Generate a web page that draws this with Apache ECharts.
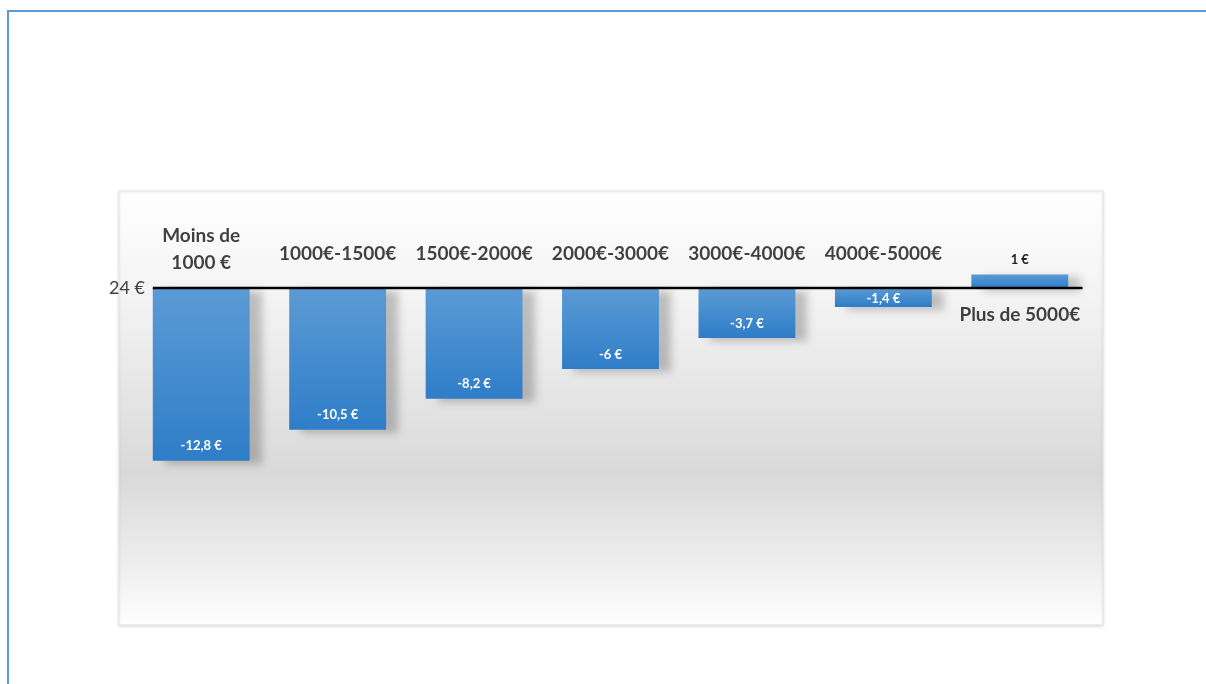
<!DOCTYPE html>
<html>
<head>
<meta charset="utf-8">
<script src="https://cdn.jsdelivr.net/npm/echarts@6/dist/echarts.min.js"></script>
<style>
html,body{margin:0;padding:0;background:#ffffff;}
#chart{width:1206px;height:684px;}
</style>
</head>
<body>
<div id="chart"></div>
<script>
// ---- data ----
const categories = ['Moins de\n1000 €', '1000€-1500€', '1500€-2000€', '2000€-3000€', '3000€-4000€', '4000€-5000€', 'Plus de 5000€'];
const values = [-12.8, -10.5, -8.2, -6, -3.7, -1.4, 1];
const zeroLabel = '24 €';

function fmt(v) { return String(v).replace('.', ',') + ' €'; }

const chart = echarts.init(document.getElementById('chart'));

const barData = values.map(v => ({
  value: v,
  label: v >= 0
    ? { position: 'top', color: '#222', distance: 8 }
    : (Math.abs(v) < 2
        ? { position: 'inside', color: '#ffffff', offset: [0, 1] }
        : { position: 'insideBottom', color: '#ffffff', distance: 8 })
}));

const labelData = values.map((v, i) => {
  const multi = categories[i].indexOf('\n') >= 0;
  return {
    value: 0,
    label: v >= 0
      ? { position: 'bottom', distance: 14 }
      : { position: 'top', distance: multi ? 12 : 22, lineHeight: multi ? 27 : 25 }
  };
});

const baseGraphic = [
  {
    type: 'rect', z: -10, silent: true,
    shape: { x: 119, y: 191, width: 984, height: 434 },
    style: {
      fill: {
        type: 'linear', x: 0, y: 0, x2: 0, y2: 1,
        colorStops: [
          { offset: 0, color: '#ffffff' },
          { offset: 0.25, color: '#f3f3f3' },
          { offset: 0.65, color: '#d9d9d9' },
          { offset: 0.87, color: '#efefef' },
          { offset: 1, color: '#ffffff' }
        ]
      },
      stroke: '#e4e4e4', lineWidth: 1,
      shadowColor: 'rgba(0,0,0,0.12)', shadowBlur: 3, shadowOffsetY: 1
    }
  },
  { type: 'line', silent: true, shape: { x1: 8, y1: 11, x2: 1206, y2: 11 }, style: { stroke: '#5b9bd5', lineWidth: 2 } },
  { type: 'line', silent: true, shape: { x1: 8, y1: 10, x2: 8, y2: 684 }, style: { stroke: '#5b9bd5', lineWidth: 2 } }
];

const option = {
  animation: false,
  backgroundColor: '#ffffff',
  graphic: baseGraphic,
  grid: { left: 133, right: 118, top: 234, bottom: 126, containLabel: false },
  xAxis: {
    type: 'category',
    data: categories,
    axisLine: { show: false },
    axisTick: { show: false },
    axisLabel: { show: false },
    splitLine: { show: false }
  },
  yAxis: {
    type: 'value',
    min: -20, max: 4, interval: 4,
    axisLine: { show: false },
    axisTick: { show: false },
    splitLine: { show: false },
    axisLabel: {
      margin: -12,
      fontFamily: 'Lato', fontSize: 18, color: '#404040',
      padding: [4, 0, 0, 0],
      formatter: v => (v === 0 ? zeroLabel : '')
    }
  },
  series: [
    {
      type: 'bar',
      data: barData,
      barWidth: '71%',
      itemStyle: {
        color: {
          type: 'linear', x: 0, y: 0, x2: 0, y2: 1,
          colorStops: [
            { offset: 0, color: '#5b9bd5' },
            { offset: 1, color: '#2f7dc8' }
          ]
        },
        shadowColor: 'rgba(0,0,0,0.22)', shadowBlur: 8, shadowOffsetX: 12, shadowOffsetY: 3
      },
      label: {
        show: true,
        fontFamily: 'Lato', fontWeight: 'bold', fontSize: 13,
        formatter: p => fmt(p.value)
      },
      z: 2
    },
    {
      type: 'scatter',
      data: labelData,
      symbolSize: 0,
      silent: true,
      label: {
        show: true,
        fontFamily: 'Lato', fontWeight: 'bold', fontSize: 19, color: '#111111',
        lineHeight: 25,
        formatter: p => categories[p.dataIndex]
      },
      z: 5
    }
  ]
};
chart.setOption(option);

// zero line drawn from the axes' own scales: from left edge of first bar to just past the last bar
const y0 = chart.convertToPixel({ yAxisIndex: 0 }, 0);
const xFirst = chart.convertToPixel({ xAxisIndex: 0 }, 0);
const xLast = chart.convertToPixel({ xAxisIndex: 0 }, categories.length - 1);
const band = (xLast - xFirst) / (categories.length - 1);
chart.setOption({
  graphic: baseGraphic.concat([
    {
      type: 'line', silent: true, z: 10,
      shape: { x1: xFirst - band * 0.355, y1: y0, x2: xLast + band * 0.46, y2: y0 },
      style: { stroke: '#000000', lineWidth: 2.5 }
    }
  ])
});
</script>
</body>
</html>
